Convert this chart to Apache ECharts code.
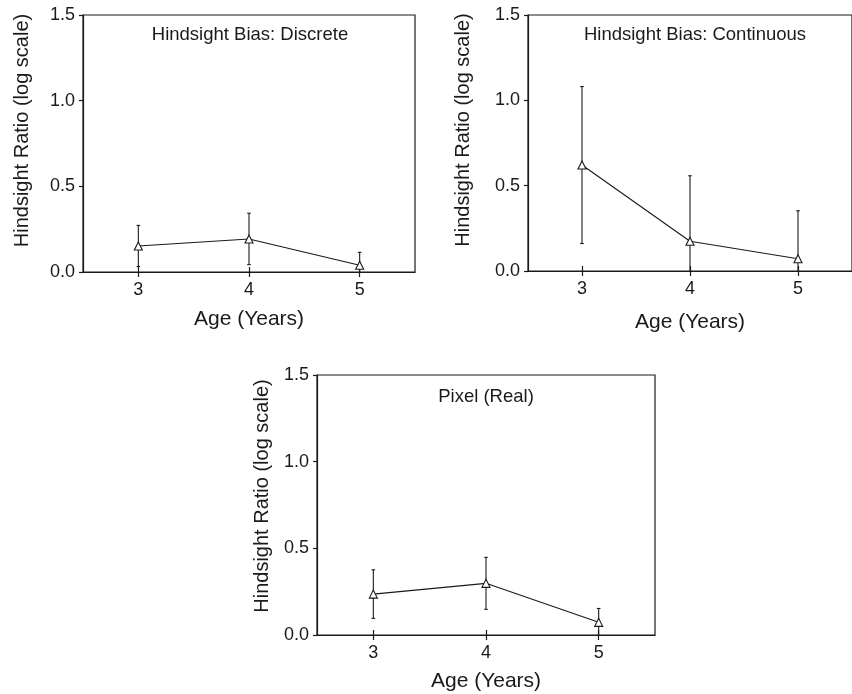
<!DOCTYPE html>
<html>
<head>
<meta charset="utf-8">
<script src="https://cdn.jsdelivr.net/npm/echarts@6/dist/echarts.min.js"></script>
<style>
html,body{margin:0;padding:0;background:#fff;}
#chart{width:852px;height:694px;}
</style>
</head>
<body>
<div id="chart"></div>
<script>
// ---- data ----
const ages = [3, 4, 5];
const panelTitles = ['Hindsight Bias: Discrete', 'Hindsight Bias: Continuous', 'Pixel (Real)'];
const discreteMean = [0.152, 0.193, 0.039];
const discreteErr = [0.120, 0.150, 0.076];
const continuousMean = [0.621, 0.174, 0.072];
const continuousErr = [0.460, 0.384, 0.281];
const pixelMean = [0.236, 0.298, 0.073];
const pixelErr = [0.140, 0.150, 0.080];
const xName = 'Age (Years)';
const yName = 'Hindsight Ratio (log scale)';

const means = [discreteMean, continuousMean, pixelMean];
const errs = [discreteErr, continuousErr, pixelErr];

// ---- layout ----
const FONT = 'Liberation Sans, Arial, Helvetica, sans-serif';
const INK = '#1a1a1a';
const grids = [
  {left: 83, top: 15, width: 332, height: 257, yGap: 51, yShift: 26, xGap: 37, title: [250, 35]},
  {left: 528, top: 15, width: 333, height: 256, yGap: 55, yShift: 26, xGap: 41, title: [695, 35]},
  {left: 317, top: 375, width: 338, height: 260, yGap: 45, yShift: 18, xGap: 36, title: [486, 397]}
];

const option = {
  backgroundColor: '#fff',
  animation: false,
  grid: grids.map(g => ({left: g.left, top: g.top, width: g.width, height: g.height,
    show: true, borderColor: INK, borderWidth: 1.2, backgroundColor: 'transparent'})),
  xAxis: [],
  yAxis: [],
  series: [],
  graphic: grids.map((g, i) => ({
    type: 'text', x: g.title[0], y: g.title[1], silent: true,
    style: {text: panelTitles[i], fill: INK, font: '18.5px ' + FONT, align: 'center', verticalAlign: 'middle'}
  }))
};

grids.forEach((g, i) => {
  option.xAxis.push({
    type: 'value', gridIndex: i, min: 2.5, max: 5.5, position: 'bottom',
    name: xName, nameLocation: 'middle', nameGap: g.xGap,
    nameTextStyle: {fontSize: 21, fontFamily: FONT, color: INK},
    axisLine: {show: true, onZero: false, lineStyle: {color: INK, width: 1.2}},
    axisTick: {show: true, length: 5, customValues: ages, lineStyle: {color: INK, width: 1.2}},
    axisLabel: {show: true, customValues: ages, margin: 9, fontSize: 18, fontFamily: FONT, color: INK},
    splitLine: {show: false}
  });
  option.xAxis.push({
    type: 'value', gridIndex: i, min: 2.5, max: 5.5, position: 'bottom',
    axisLine: {show: false},
    axisTick: {show: true, inside: true, length: 5, customValues: ages, lineStyle: {color: INK, width: 1.2}},
    axisLabel: {show: false},
    splitLine: {show: false}
  });
  option.yAxis.push({
    type: 'value', gridIndex: i, min: 0, max: 1.5, interval: 0.5,
    name: yName, nameLocation: 'middle', nameGap: g.yGap, nameRotate: 90,
    nameTextStyle: {fontSize: 20, fontFamily: FONT, color: INK, padding: [0, 0, 0, g.yShift]},
    axisLine: {show: true, onZero: false, lineStyle: {color: INK, width: 1.2}},
    axisTick: {show: true, length: 4, lineStyle: {color: INK, width: 1.2}},
    axisLabel: {show: true, margin: 8, fontSize: 18, fontFamily: FONT, color: INK,
      formatter: v => v.toFixed(1)},
    splitLine: {show: false}
  });

  const m = means[i], e = errs[i];
  option.series.push({
    type: 'custom', xAxisIndex: 2 * i, yAxisIndex: i, clip: true, z: 2,
    data: ages.map((a, k) => [a, m[k] - e[k], m[k] + e[k]]),
    renderItem: (params, api) => {
      const x = api.value(0);
      const lo = api.coord([x, api.value(1)]);
      const hi = api.coord([x, api.value(2)]);
      const cap = 1.8;
      const st = {stroke: INK, lineWidth: 1.1};
      return {type: 'group', children: [
        {type: 'line', shape: {x1: lo[0], y1: lo[1], x2: hi[0], y2: hi[1]}, style: st},
        {type: 'line', shape: {x1: hi[0] - cap, y1: hi[1], x2: hi[0] + cap, y2: hi[1]}, style: st},
        {type: 'line', shape: {x1: lo[0] - cap, y1: lo[1], x2: lo[0] + cap, y2: lo[1]}, style: st}
      ]};
    }
  });
  option.series.push({
    type: 'line', xAxisIndex: 2 * i, yAxisIndex: i, z: 3,
    data: ages.map((a, k) => [a, m[k]]),
    symbol: 'triangle', symbolSize: 8, showSymbol: true,
    lineStyle: {color: INK, width: 1.1},
    itemStyle: {color: '#fff', borderColor: INK, borderWidth: 1.1}
  });
});

const chart = echarts.init(document.getElementById('chart'), null, {renderer: 'canvas'});
chart.setOption(option);
</script>
</body>
</html>
